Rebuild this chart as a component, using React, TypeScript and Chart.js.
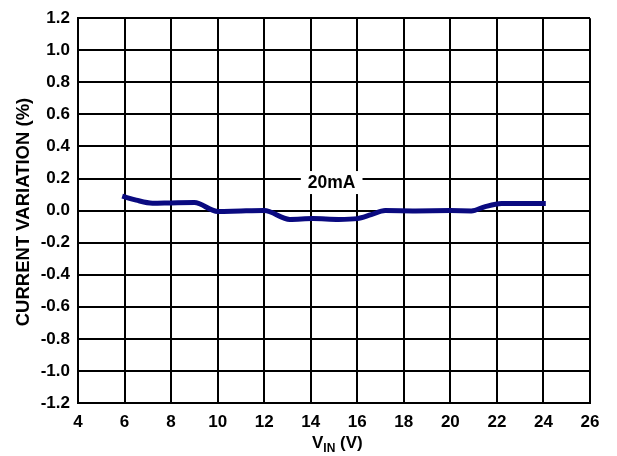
import React, { useEffect, useRef } from "react";
import { Chart, registerables } from "chart.js";

Chart.register(...registerables);

const vin = [5.9, 6.5, 7.2, 8.0, 9.0, 10.0, 11.0, 12.0, 13.1, 14.1, 15.2, 16.0, 16.6, 17.2, 18.5, 20.0, 20.9, 21.5, 22.2, 23.0, 24.1];
const variation = [0.09, 0.065, 0.046, 0.048, 0.05, -0.005, -0.002, 0.0, -0.055, -0.05, -0.055, -0.05, -0.025, 0.0, -0.002, 0.0, -0.002, 0.025, 0.044, 0.045, 0.045];
const yTicks = [-1.2, -1.0, -0.8, -0.6, -0.4, -0.2, 0.0, 0.2, 0.4, 0.6, 0.8, 1.0, 1.2];
const xTicks = [4, 6, 8, 10, 12, 14, 16, 18, 20, 22, 24, 26];
const seriesLabel = "20mA";
const labelPos = { x: 14.9, y: 0.175 };
const yTitle = "CURRENT VARIATION (%)";

const FONT = "Arial, 'Liberation Sans', sans-serif";

export default function App() {
  const ref = useRef<HTMLCanvasElement>(null);
  useEffect(() => {
    const ctx = ref.current!;
    const overlay = {
      id: "overlay",
      afterDatasetsDraw(chart: any) {
        const c = chart.ctx;
        const xs = chart.scales.x;
        const ys = chart.scales.y;
        const px = xs.getPixelForValue(labelPos.x);
        const py = ys.getPixelForValue(labelPos.y);
        c.save();
        c.font = `bold 17.5px ${FONT}`;
        const w = c.measureText(seriesLabel).width;
        c.fillStyle = "#fff";
        c.fillRect(px - w / 2 - 7, py - 11.5, w + 14, 23);
        c.fillStyle = "#000";
        c.textAlign = "center";
        c.textBaseline = "middle";
        c.fillText(seriesLabel, px, py + 1);
        c.restore();
      },
      afterDraw(chart: any) {
        const c = chart.ctx;
        const a = chart.chartArea;
        c.save();
        c.font = `bold 18.5px ${FONT}`;
        c.fillStyle = "#000";
        c.textAlign = "center";
        c.textBaseline = "middle";
        c.translate(24, 212);
        c.rotate(-Math.PI / 2);
        c.fillText(yTitle, 0, 0);
        c.restore();
        c.save();
        c.fillStyle = "#000";
        c.textBaseline = "alphabetic";
        c.textAlign = "left";
        const big = `bold 17px ${FONT}`;
        const small = `bold 12px ${FONT}`;
        let x0 = 312;
        const base = 448;
        c.font = big;
        const wV = c.measureText("V").width;
        c.fillText("V", x0, base);
        x0 += wV;
        c.font = small;
        const wIn = c.measureText("IN").width;
        c.fillText("IN", x0, base + 4);
        x0 += wIn;
        c.font = big;
        c.fillText(" (V)", x0, base);
        c.restore();
      },
    };
    const chart = new Chart(ctx, {
      type: "line",
      data: {
        datasets: [
          {
            data: vin.map((v, i) => ({ x: v, y: variation[i] })),
            borderColor: "#0a0a80",
            borderWidth: 5,
            pointRadius: 0,
            cubicInterpolationMode: "monotone",
            fill: false,
          },
        ],
      },
      options: {
        animation: false,
        responsive: false,
        maintainAspectRatio: false,
        layout: { padding: { top: 16, right: 27, left: 0, bottom: 0 } },
        plugins: { legend: { display: false }, tooltip: { enabled: false } },
        scales: {
          x: {
            type: "linear",
            min: 4,
            max: 26,
            afterBuildTicks: (s: any) => {
              s.ticks = xTicks.map((v) => ({ value: v }));
            },
            afterFit: (s: any) => {
              s.height = 53;
            },
            grid: { color: "#000", lineWidth: 2, drawTicks: false },
            border: { color: "#000", width: 2 },
            ticks: {
              color: "#000",
              font: { family: FONT, size: 17, weight: "bold" },
              padding: 9,
              callback: (v: any) => String(v),
            },
          },
          y: {
            type: "linear",
            min: -1.2,
            max: 1.2,
            afterBuildTicks: (s: any) => {
              s.ticks = yTicks.map((v) => ({ value: v }));
            },
            afterFit: (s: any) => {
              s.width = 78;
            },
            grid: { color: "#000", lineWidth: 2, drawTicks: false },
            border: { color: "#000", width: 2 },
            ticks: {
              color: "#000",
              font: { family: FONT, size: 17, weight: "bold" },
              padding: 8,
              callback: (v: any) => (Math.abs(v) < 1e-9 ? "0.0" : Number(v).toFixed(1)),
            },
          },
        },
      },
      plugins: [overlay],
    } as any);
    return () => chart.destroy();
  }, []);
  return (
    <div style={{ position: "absolute", left: 0, top: 0, width: 617, height: 456, background: "#fff" }}>
      <canvas ref={ref} width={617} height={456} style={{ width: 617, height: 456, display: "block" }} />
    </div>
  );
}
